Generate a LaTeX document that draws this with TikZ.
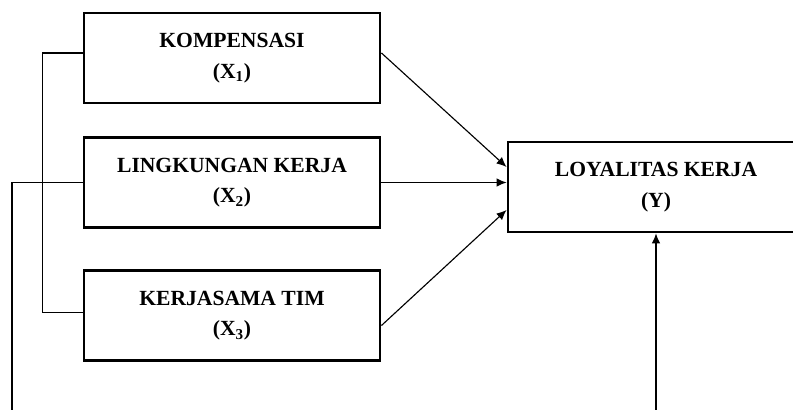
\documentclass[tikz,border=0pt]{standalone}
\usepackage{fontspec}
\setmainfont{Liberation Serif}
\usetikzlibrary{arrows.meta,calc}
\begin{document}
\begin{tikzpicture}[x=0.75pt,y=-0.75pt,>={Latex[length=7.5pt,width=6.5pt]},
    font=\fontsize{16.2}{23}\selectfont\bfseries,
    var/.style={draw,line width=2.2pt,minimum width=222pt,minimum height=67.5pt,align=center,inner sep=0pt},
    link/.style={line width=0.85pt}]
                \useasboundingbox (0,0) rectangle (793,410);
                \node[var] (X1) at (232,58) {KOMPENSASI\\(X\textsubscript{1})};
                \node[var] (X2) at (232,182.5) {LINGKUNGAN KERJA\\(X\textsubscript{2})};
                \node[var] (X3) at (232,315.5) {KERJASAMA TIM\\(X\textsubscript{3})};
                \node[var] (Y) at (656,187) {LOYALITAS KERJA\\(Y)};
                \coordinate (lowL) at (12,410);
                \coordinate (lowR) at (656,410);
                \draw[link,->] ($(X1.east)+(0,-5)$)--($(Y.west)+(0,-20)$);
                \draw[link,->] (X2.east)--(X2.east -| Y.west);
                \draw[link,->] ($(X3.east)+(0,10)$)--($(Y.west)+(0,23)$);
                \draw[link] ($(X1.west)+(0,-5)$)--++(-40,0)|-($(X3.west)+(0,-3)$);
                \draw[link] (X2.west)-|(lowL);
                \draw[link,->] (lowR)--(Y.south);
            \end{tikzpicture}
\end{document}
